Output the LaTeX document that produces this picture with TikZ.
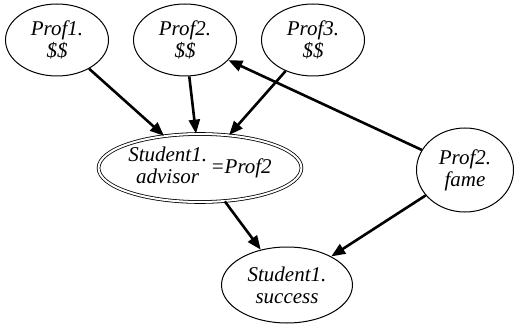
\documentclass[tikz,border=0pt]{standalone}
\usepackage{fontspec}
\setmainfont{Liberation Serif}
\usetikzlibrary{shapes.geometric, arrows.meta}

\begin{document}
\begin{tikzpicture}[
    x=1pt, y=-1pt,
    font=\fontsize{21}{22}\selectfont\itshape,
    % Styles
    attr/.style={
        draw,
        ellipse,
        line width=1pt,
        inner sep=0pt,
        align=center,
        minimum width=103pt,
        minimum height=72pt
    },
    multi_attr/.style={
        attr,
        double,
        double distance=2pt,
        line width=0.8pt,
        minimum width=184pt,
        minimum height=68pt
    },
    arrow/.style={-{Triangle[length=14pt, width=11pt]}, line width=2.6pt}
]
    \useasboundingbox (0,0) rectangle (514,326);

    % --- PROFESSORS ---
    \node[attr] (prof1) at (57,40) {Prof1.\\\$\$};
    \node[attr] (prof2) at (185,40) {Prof2.\\\$\$};
    \node[attr] (prof3) at (313,40) {Prof3.\\\$\$};
    \node[attr, minimum width=97pt, minimum height=84pt] (fame) at (465,170) {Prof2.\\fame};

    % --- STUDENT ---
    \node[multi_attr] (advisor) at (200,168)
        {\begin{tabular}{@{}c@{}}Student1.\\advisor\end{tabular}\,=Prof2};
    \node[attr, minimum width=131pt, minimum height=76pt] (success) at (287,285) {Student1.\\success};

    % --- ARROWS ---
    \draw[arrow] (prof1) -- (advisor);
    \draw[arrow] (prof2) -- (advisor);
    \draw[arrow] (prof3) -- (advisor);
    \draw[arrow] (fame) -- (prof2);
    \draw[arrow] (advisor) -- (success);
    \draw[arrow] (fame) -- (success);

\end{tikzpicture}
\end{document}
